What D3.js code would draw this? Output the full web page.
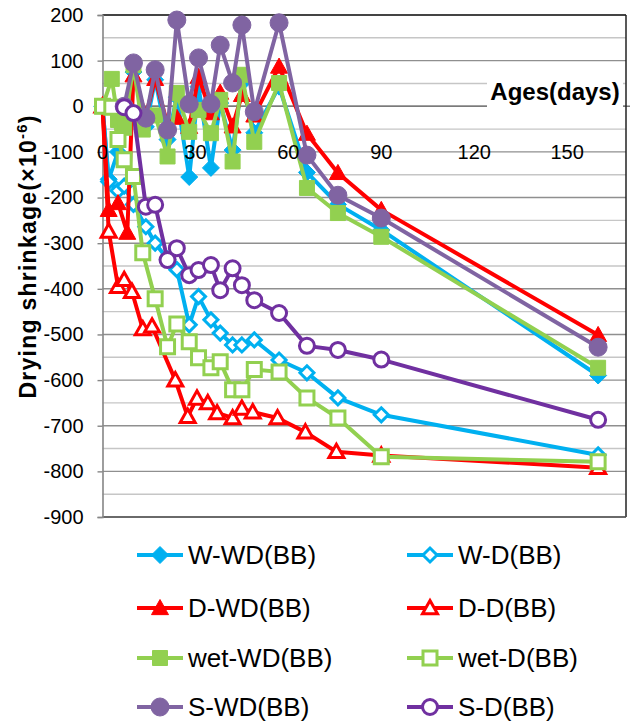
<!DOCTYPE html>
<html><head><meta charset="utf-8">
<script src="https://cdn.jsdelivr.net/npm/d3@7"></script>
<style>
html,body{margin:0;padding:0;background:#fff;}
svg{display:block;font-family:"Liberation Sans",Arial,sans-serif;}
</style></head>
<body>
<svg id="chart" width="634" height="724"></svg>
<script>
// ---------- data ----------
const yTicks = [200,100,0,-100,-200,-300,-400,-500,-600,-700,-800,-900];
const xTicks = [0,30,60,90,120,150];

const daysW   = [0,2,5,7,10,14,17,21,24,28,31,35,38,42,45,49,57,66,76,90,160];
const wWD     = [0,-160,-100,-40,75,-45,58,-73,20,-155,43,-135,7,-96,51,-58,43,-145,-215,-271,-590];
const wD      = [0,-165,-185,-175,-215,-264,-300,-335,-358,-479,-417,-468,-497,-523,-523,-512,-556,-584,-639,-676,-764];

const daysDWD = [0,2,5,8,10,14,17,21,24,28,31,35,38,42,45,49,57,66,76,90,160];
const dWD     = [0,-227,-212,-277,68,-20,60,-40,-25,-45,65,-15,30,-44,25,-20,87,-60,-146,-227,-501];

const daysDD  = [0,2,5,7,9.5,13,16,23.5,27.5,30.5,34,37,42,45,48.5,56.5,65.5,75.5,90,160];
const dD      = [0,-274,-395,-380,-406,-488,-482,-600,-680,-640,-650,-672,-683,-662,-670,-683,-714,-757,-765,-792];

const daysWet = [0,3,5,7,10,13,17,21,24,28,31,35,38,42,45,49,57,66,76,90,160];
const wetWD   = [0,60,-30,-47,90,-51,-20,-110,29,-56,-8,-59,14,-121,69,-78,51,-179,-234,-286,-573];
const wetD    = [0,-2,-73,-117,-154,-321,-422,-527,-477,-516,-551,-573,-560,-621,-621,-577,-582,-639,-683,-768,-779];

const daysS   = [7,10,14,17,21,24,28,31,35,38,42,45,49,57,66,76,90,160];
const sWD     = [0,95,-26,80,-52,189,5,106,5,134,51,178,-12,183,-107,-195,-245,-528];
const sD      = [-2,-15,-220,-216,-337,-311,-370,-359,-348,-403,-355,-392,-425,-453,-525,-534,-555,-687];

const seriesNames = ["W-WD(BB)","W-D(BB)","D-WD(BB)","D-D(BB)","wet-WD(BB)","wet-D(BB)","S-WD(BB)","S-D(BB)"];

// ---------- build ----------
const series = [
  {name:seriesNames[0], days:daysW,   vals:wWD,   color:"#00B0F0", shape:"diamond",  filled:true},
  {name:seriesNames[1], days:daysW,   vals:wD,    color:"#00B0F0", shape:"diamond",  filled:false},
  {name:seriesNames[2], days:daysDWD, vals:dWD,   color:"#FF0000", shape:"triangle", filled:true},
  {name:seriesNames[3], days:daysDD,  vals:dD,    color:"#FF0000", shape:"triangle", filled:false},
  {name:seriesNames[4], days:daysWet, vals:wetWD, color:"#92D050", shape:"square",   filled:true},
  {name:seriesNames[5], days:daysWet, vals:wetD,  color:"#92D050", shape:"square",   filled:false},
  {name:seriesNames[6], days:daysS,   vals:sWD,   color:"#8064A2", shape:"circle",   filled:true},
  {name:seriesNames[7], days:daysS,   vals:sD,    color:"#7030A0", shape:"circle",   filled:false}
];

const svg = d3.select("#chart");
const x = d3.scaleLinear().domain([0,169]).range([102.5,626]);
const y = d3.scaleLinear().domain([-900,200]).range([517,15]);

// gridlines
const grid = svg.append("g");
d3.range(-900, 201, 50).forEach(v=>{
  const major = v % 100 === 0;
  grid.append("line")
    .attr("x1", x.range()[0]).attr("x2", x.range()[1])
    .attr("y1", y(v)).attr("y2", y(v))
    .attr("stroke", major ? "#8f8f8f" : "#c6c6c6")
    .attr("stroke-width", 1.4);
});
// zero line (x axis)
svg.append("line").attr("x1", x.range()[0]).attr("x2", x.range()[1]+4)
  .attr("y1", y(0)).attr("y2", y(0)).attr("stroke","#7a7a7a").attr("stroke-width",1.6);
// frame top/right/bottom
svg.append("line").attr("x1", x.range()[0]).attr("x2", x.range()[1])
  .attr("y1", y(200)).attr("y2", y(200)).attr("stroke","#222").attr("stroke-width",1.5);
svg.append("line").attr("x1", x.range()[1]).attr("x2", x.range()[1])
  .attr("y1", y(200)).attr("y2", y(-900)).attr("stroke","#222").attr("stroke-width",1.5);
svg.append("line").attr("x1", x.range()[0]).attr("x2", x.range()[1])
  .attr("y1", y(-900)).attr("y2", y(-900)).attr("stroke","#555").attr("stroke-width",1.5);

// y axis
const yAxis = d3.axisLeft(y).tickValues(yTicks).tickFormat(d=>String(d)).tickSize(5).tickPadding(14);
const ya = svg.append("g").attr("transform",`translate(${x.range()[0]},0)`).call(yAxis);
ya.select(".domain").attr("stroke","#868686").attr("stroke-width",1.6);
ya.selectAll(".tick line").attr("stroke","#868686").attr("stroke-width",1.4);
ya.selectAll(".tick text").attr("font-size",20).attr("fill","#000")
  .attr("font-family","'Liberation Sans',Arial,sans-serif");

// axis title "Ages(days)" with white box
svg.append("rect").attr("x",487).attr("y",72).attr("width",136).attr("height",37).attr("fill","#fff");
svg.append("text").attr("x",555).attr("y",100).attr("text-anchor","middle")
  .attr("font-size",24).attr("font-weight","bold").text("Ages(days)");

// y title
const yt = svg.append("text").attr("transform","translate(36,257) rotate(-90)")
  .attr("text-anchor","middle").attr("font-size",23).attr("font-weight","bold")
  .attr("textLength",283).attr("lengthAdjust","spacing");
yt.append("tspan").text("Drying shrinkage(×10");
yt.append("tspan").attr("dy",-9).attr("font-size",15).text("-6");
yt.append("tspan").attr("dy",9).text(")");

// marker path generator
function markerPath(shape, s){
  if(shape==="diamond") return `M0,${-s}L${s},0L0,${s}L${-s},0Z`;
  if(shape==="triangle") return `M0,${-s}L${s},${s*0.78}L${-s},${s*0.78}Z`;
  if(shape==="square") return `M${-s},${-s}H${s}V${s}H${-s}Z`;
  return d3.symbol().type(d3.symbolCircle).size(Math.PI*s*s)();
}
function markerSize(d){
  if(d.shape==="diamond") return d.filled?8.5:7;
  if(d.shape==="triangle") return d.filled?8.5:7.5;
  if(d.shape==="square") return d.filled?7.5:7;
  return d.filled?9:7.5;
}
function drawMarker(g, d, cx, cy){
  g.append("path").attr("d", markerPath(d.shape, markerSize(d)))
    .attr("transform",`translate(${cx},${cy})`)
    .attr("fill", d.filled ? d.color : "#fff")
    .attr("stroke", d.color)
    .attr("stroke-width", d.filled ? 1 : 3)
    .attr("stroke-linejoin","miter");
}

const line = d3.line().x(p=>x(p[0])).y(p=>y(p[1]));
const plot = svg.append("g");
series.forEach(s=>{
  const pts = s.days.map((dd,i)=>[dd, s.vals[i]]);
  const g = plot.append("g");
  g.append("path").attr("d", line(pts)).attr("fill","none")
    .attr("stroke", s.color).attr("stroke-width",4).attr("stroke-linejoin","round");
  pts.forEach(p=>drawMarker(g, s, x(p[0]), y(p[1])));
});

// x tick labels (sit on the -100 gridline as in the reference, drawn over the series)
const xa = svg.append("g");
xTicks.forEach(t=>{
  xa.append("text").attr("x", x(t)).attr("y", y(-100)).attr("dy","0.35em")
    .attr("text-anchor","middle").attr("font-size",20).attr("fill","#000").text(t);
});

// legend
const legRows = [555,608,658,707];
const legCols = [{x1:137,x2:183,tx:188},{x1:407,x2:453,tx:458}];
const leg = svg.append("g");
series.forEach((s,i)=>{
  const col = legCols[i%2], ry = legRows[Math.floor(i/2)];
  leg.append("line").attr("x1",col.x1).attr("x2",col.x2).attr("y1",ry).attr("y2",ry)
    .attr("stroke",s.color).attr("stroke-width",4);
  drawMarker(leg, s, (col.x1+col.x2)/2, ry);
  leg.append("text").attr("x",col.tx).attr("y",ry+9).attr("font-size",26).attr("fill","#000").text(s.name);
});
</script>
</body></html>
